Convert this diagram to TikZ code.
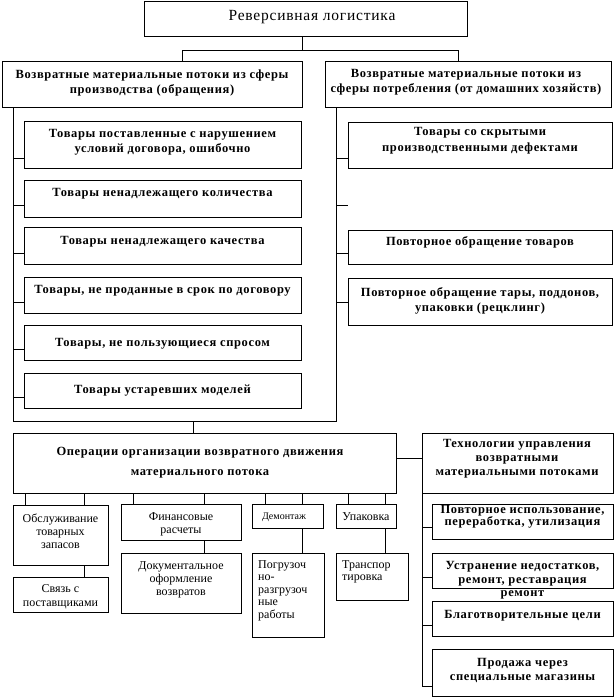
\documentclass[tikz,border=0pt]{standalone}
\usepackage{fontspec}
\setmainfont{Liberation Serif}
\newfontfamily\bsp[LetterSpace=5]{Liberation Serif}
\tikzset{
  box/.style={draw, line width=0.95pt, inner sep=0pt, rectangle},
  ln/.style={line width=0.95pt},
  bt/.style={font=\bsp\bfseries\fontsize{12.5}{#1}\selectfont, inner sep=0pt, align=center},
  bt/.default=15,
  rt/.style={font=\fontsize{12}{#1}\selectfont, inner sep=0pt, align=center},
  rt/.default=13,
}
\newcommand\bx[5]{\node[box, anchor=north west, minimum width={#4pt-#2pt}, minimum height={#5pt-#3pt}] (#1) at (#2,#3) {};}
\begin{document}
\begin{tikzpicture}[x=1pt,y=-1pt]
\useasboundingbox (0,0) rectangle (614,698);
% boxes
\bx{T}{144}{1}{467}{36}
\bx{A}{2}{61}{302}{107}
\bx{B}{325}{61}{611}{107}
\bx{a1}{24}{121}{301}{168}
\bx{a2}{24}{180}{301}{217}
\bx{a3}{24}{227}{301}{264}
\bx{a4}{24}{277}{301}{313}
\bx{a5}{24}{325}{301}{360}
\bx{a6}{24}{373}{301}{408}
\bx{b1}{348}{122}{612}{168}
\bx{b2}{348}{230}{612}{264}
\bx{b3}{348}{278}{612}{325}
\bx{ops}{13}{433}{396}{493}
\bx{tech}{422}{433}{613}{493}
\bx{c1}{432}{504}{613}{539}
\bx{c2}{432}{553}{613}{588}
\bx{c3}{432}{601}{613}{636}
\bx{c4}{432}{649}{613}{696}
\bx{o1}{13}{505}{108}{565}
\bx{o1b}{13}{577}{108}{612}
\bx{o2}{121}{504}{241}{540}
\bx{o2b}{121}{553}{241}{613}
\bx{o3}{252}{504}{323}{528}
\bx{o3b}{252}{553}{324}{637}
\bx{o4}{336}{504}{396}{528}
\bx{o4b}{336}{553}{408}{600}
% texts
\node[font=\bsp\fontsize{15.5}{18}\selectfont, inner sep=0pt, anchor=base] (Tt) at (312,21) {Реверсивная логистика};
\node[bt, anchor=north] (At) at (152,69.5) {Возвратные материальные потоки из сферы\\производства (обращения)};
\node[bt, anchor=north] (Bt) at (466,69.5) {Возвратные материальные потоки из\\сферы потребления (от домашних хозяйств)};
\node[bt, anchor=north] (a1t) at (162.5,129.5) {Товары поставленные с нарушением\\условий договора, ошибочно};
\node[bt, anchor=base] (a2t) at (162.5,196) {Товары ненадлежащего количества};
\node[bt, anchor=base] (a3t) at (162.5,244) {Товары ненадлежащего качества};
\node[bt, anchor=base] (a4t) at (162.5,293) {Товары, не проданные в срок по договору};
\node[bt, anchor=base] (a5t) at (162.5,346) {Товары, не пользующиеся спросом};
\node[bt, anchor=base] (a6t) at (162.5,393) {Товары устаревших моделей};
\node[bt=15.5, anchor=north] (b1t) at (480,127.5) {Товары со скрытыми\\производственными дефектами};
\node[bt, anchor=base] (b2t) at (480,245) {Повторное обращение товаров};
\node[bt, anchor=north] (b3t) at (480,287.5) {Повторное обращение тары, поддонов,\\упаковки (рецклинг)};
\node[bt=19.5, anchor=north] (opst) at (200,447.5) {Операции организации возвратного движения\\материального потока};
\node[bt=14, anchor=north] (techt) at (517,439.5) {Технологии управления\\возвратными\hspace{2.2em}\\материальными потоками};
\node[bt=12.5, anchor=north] (c1t) at (522.5,505) {Повторное использование,\\переработка, утилизация};
\node[bt=13.5, anchor=north] (c2t) at (522.5,561.5) {Устранение недостатков,\\ремонт, реставрация\\ремонт};
\node[bt, anchor=base] (c3t) at (522.5,618) {Благотворительные цели};
\node[bt=14, anchor=north] (c4t) at (522.5,658) {Продажа через\\специальные магазины};
\node[rt, anchor=north] (o1t) at (60.5,514) {Обслуживание\\товарных\\запасов};
\node[rt=14, anchor=north] (o1bt) at (60.5,584) {Связь с\\поставщиками};
\node[rt, anchor=north] (o2t) at (181,512) {Финансовые\\расчеты};
\node[rt, anchor=north] (o2bt) at (181,561) {Документальное\\оформление\\возвратов};
\node[font=\fontsize{10}{12}\selectfont, inner sep=0pt, anchor=base] (o3t) at (284,519.5) {Демонтаж};
\node[rt=12.5, align=left, anchor=north west] (o3bt) at (258,560) {Погрузоч\\но-\\разгрузоч\\ные\\работы};
\node[rt, anchor=base] (o4t) at (366,520.5) {Упаковка};
\node[rt=12.5, align=left, anchor=north west] (o4bt) at (342,560) {Транспор\\тировка};
% connectors
\coordinate (j1) at (302,50);
\draw[ln] (T.south -| j1) -- (j1);
\draw[ln] (A.north -| 182,0) -- (182,50) -- (458,50) -- (B.north -| 458,0);
\coordinate (sL) at (13,421);
\coordinate (sR) at (336,421);
\draw[ln] (A.south -| sL) -- (sL) -- (sR) -- (B.south -| sR);
\draw[ln] (sL |- 0,158) -- (a1.west |- 0,158);
\draw[ln] (sL |- 0,205) -- (a2.west |- 0,205);
\draw[ln] (sL |- 0,253) -- (a3.west |- 0,253);
\draw[ln] (sL |- 0,302) -- (a4.west |- 0,302);
\draw[ln] (sL |- 0,349) -- (a5.west |- 0,349);
\draw[ln] (sL |- 0,397) -- (a6.west |- 0,397);
\draw[ln] (sR |- 0,158) -- (b1.west |- 0,158);
\coordinate (e1) at (348,205);
\draw[ln] (sR |- e1) -- (e1);
\draw[ln] (sR |- 0,253) -- (b2.west |- 0,253);
\draw[ln] (sR |- 0,302) -- (b3.west |- 0,302);
\draw[ln] (193,421) -- (ops.north -| 193,0);
\draw[ln] (ops.east |- 0,458) -- (tech.west |- 0,458);
\coordinate (sT) at (422,686);
\draw[ln] (tech.south -| sT) -- (sT) -- (c4.west |- sT);
\draw[ln] (sT |- 0,527) -- (c1.west |- 0,527);
\draw[ln] (sT |- 0,577) -- (c2.west |- 0,577);
\draw[ln] (sT |- 0,625) -- (c3.west |- 0,625);
\foreach \x/\b in {25/o1,84/o1,133/o2,204/o2,265/o3,302/o3,348/o4,385/o4}
  \draw[ln] (ops.south -| \x,0) -- (\b.north -| \x,0);
\draw[ln] (o1.south -| 84,0) -- (o1b.north -| 84,0);
\draw[ln] (o2.south -| 204,0) -- (o2b.north -| 204,0);
\draw[ln] (o3.south -| 302,0) -- (o3b.north -| 302,0);
\draw[ln] (o4.south -| 385,0) -- (o4b.north -| 385,0);
\end{tikzpicture}
\end{document}
